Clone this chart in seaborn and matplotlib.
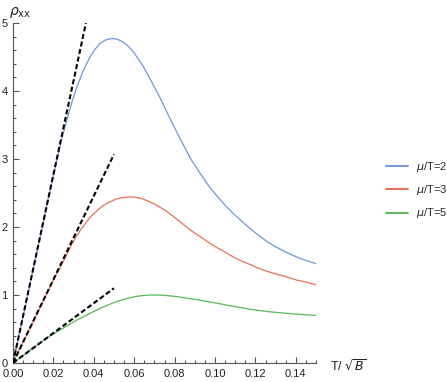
import numpy as np
import pandas as pd
import matplotlib
matplotlib.use("Agg")
import matplotlib.pyplot as plt
from matplotlib.ticker import MultipleLocator
import seaborn as sns

# ----------------------
# Data
# ----------------------
labels = ["$\\mu$/T=2", "$\\mu$/T=3", "$\\mu$/T=5"]
colors = ["#7096dc", "#e8714f", "#58b858"]

x_mu2 = [0, 0.005, 0.010, 0.015, 0.0175, 0.0216, 0.024, 0.0266, 0.029, 0.0315,
         0.0345, 0.0381, 0.0405, 0.0431, 0.0455, 0.0475, 0.0493, 0.051, 0.0525,
         0.0545, 0.0563, 0.058, 0.060, 0.062, 0.0645, 0.0678, 0.0705, 0.0728,
         0.0755, 0.078, 0.081, 0.0843, 0.088, 0.0926, 0.0965, 0.1008, 0.105,
         0.109, 0.113, 0.1173, 0.121, 0.1256, 0.13, 0.1338, 0.138, 0.142, 0.146, 0.15]
y_mu2 = [0, 0.69, 1.38, 2.07, 2.42, 2.97, 3.28, 3.57, 3.82, 4.05,
         4.28, 4.50, 4.61, 4.70, 4.745, 4.765, 4.77, 4.765, 4.75,
         4.72, 4.68, 4.63, 4.56, 4.47, 4.36, 4.18, 4.03, 3.90,
         3.73, 3.58, 3.40, 3.21, 3.00, 2.79, 2.62, 2.46, 2.32,
         2.20, 2.09, 1.98, 1.89, 1.79, 1.71, 1.65, 1.59, 1.54, 1.50, 1.46]

x_mu3 = [0, 0.005, 0.010, 0.015, 0.0183, 0.021, 0.0233, 0.0255, 0.0275, 0.0295,
         0.0315, 0.0335, 0.0358, 0.0378, 0.0398, 0.042, 0.044, 0.046, 0.048,
         0.051, 0.054, 0.057, 0.0596, 0.062, 0.0645, 0.0678, 0.0705, 0.0728,
         0.0761, 0.080, 0.0843, 0.088, 0.0926, 0.0965, 0.1008, 0.105, 0.109,
         0.113, 0.1173, 0.121, 0.1256, 0.13, 0.1338, 0.1404, 0.145, 0.15]
y_mu3 = [0, 0.31, 0.61, 0.92, 1.11, 1.28, 1.40, 1.53, 1.65, 1.77,
         1.87, 1.96, 2.05, 2.13, 2.19, 2.25, 2.30, 2.34, 2.37,
         2.41, 2.43, 2.44, 2.44, 2.43, 2.41, 2.37, 2.33, 2.29,
         2.23, 2.14, 2.04, 1.95, 1.86, 1.78, 1.70, 1.63, 1.56,
         1.50, 1.45, 1.40, 1.35, 1.31, 1.28, 1.22, 1.19, 1.15]

x_mu5 = [0, 0.005, 0.010, 0.015, 0.019, 0.0233, 0.0275, 0.0315, 0.0358, 0.0398,
         0.044, 0.048, 0.052, 0.056, 0.0596, 0.0635, 0.0678, 0.0711, 0.075,
         0.080, 0.0843, 0.090, 0.095, 0.1008, 0.106, 0.1117, 0.1173, 0.1225,
         0.128, 0.1338, 0.140, 0.145, 0.15]
y_mu5 = [0, 0.11, 0.22, 0.33, 0.41, 0.485, 0.56, 0.63, 0.695, 0.755,
         0.815, 0.865, 0.91, 0.945, 0.972, 0.99, 1.0, 1.0, 0.995,
         0.98, 0.962, 0.935, 0.91, 0.88, 0.85, 0.82, 0.79, 0.77,
         0.75, 0.735, 0.72, 0.71, 0.70]

# low-temperature asymptotes: slope and where the dashed line stops
asym_slope = [138.5, 61.4, 22.0]
asym_end = [0.0361, 0.050, 0.050]

df = pd.concat([
    pd.DataFrame({"T": x, "rho": y, "series": lab})
    for x, y, lab in zip([x_mu2, x_mu3, x_mu5], [y_mu2, y_mu3, y_mu5], labels)
])

# ----------------------
# Plot
# ----------------------
sns.set_style("ticks")
plt.rcParams["font.family"] = ["Liberation Sans", "DejaVu Sans"]
plt.rcParams["mathtext.fontset"] = "dejavusans"

fig = plt.figure(figsize=(4.47, 3.82), dpi=100)
ax = fig.add_axes([13 / 447, 19 / 382, (316 - 13) / 447, (363 - 23) / 382])

sns.lineplot(data=df, x="T", y="rho", hue="series", palette=colors,
             linewidth=0.9, ax=ax, legend=False, sort=False)

for k, e in zip(asym_slope, asym_end):
    xs = np.array([0, e])
    ax.plot(xs, k * xs, color="black", linewidth=1.5, dashes=(2.4, 1.3), zorder=3)

ax.set_xlim(0, 0.15)
ax.set_ylim(0, 5)
ax.xaxis.set_major_locator(MultipleLocator(0.02))
ax.xaxis.set_minor_locator(MultipleLocator(0.005))
ax.yaxis.set_major_locator(MultipleLocator(1))
ax.yaxis.set_minor_locator(MultipleLocator(0.2))
ax.xaxis.set_major_formatter(matplotlib.ticker.FormatStrFormatter("%.2f"))

ax.tick_params(which="both", direction="in", colors="#555555", labelcolor="#222222",
               labelsize=8, width=0.8)
ax.tick_params(which="major", length=4.5)
ax.tick_params(which="minor", length=2.5)
ax.tick_params(axis="x", which="major", pad=4.5)
ax.tick_params(axis="y", which="major", pad=4)
for s in ["left", "bottom"]:
    ax.spines[s].set_color("#555555")
    ax.spines[s].set_linewidth(0.8)
sns.despine(ax=ax)
ax.set_xlabel("")
ax.set_ylabel("")

fig.text(330 / 447, 1 - 366 / 382, "T/ $\\sqrt{B}$", fontsize=9, va="center", ha="left",
         color="#222222")
fig.text(9 / 447, 1 - 12 / 382, "$\\rho_{\\rm xx}$", fontsize=10, va="center", ha="left",
         color="#222222")

handles = [plt.Line2D([], [], color=c, linewidth=1.4) for c in colors]
fig.legend(handles, labels, loc="center left", bbox_to_anchor=(376 / 447, 1 - 190 / 382),
           frameon=False, fontsize=8, handlelength=2.0, handletextpad=0.7,
           labelspacing=0.85)

fig.savefig("out.png", dpi=100)
